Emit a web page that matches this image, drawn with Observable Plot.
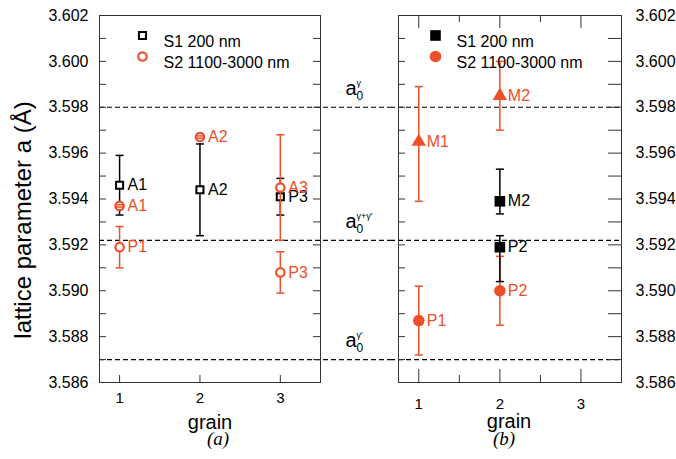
<!DOCTYPE html>
<html><head><meta charset="utf-8">
<script src="https://cdn.jsdelivr.net/npm/d3@7"></script>
<script src="https://cdn.jsdelivr.net/npm/@observablehq/plot@0.6"></script>
<style>
body{margin:0;background:#fff;}
#chart{position:relative;width:676px;height:459px;overflow:hidden;}
#pa,#pb{position:absolute;top:0;}
#pa{left:0px} #pb{left:390px}
</style></head><body><div id="chart"><div id="pa"></div><div id="pb"></div></div>
<script>
// ---------- data ----------
const seriesKeys = ["S1", "S2"];
const seriesNames = ["S1 200 nm", "S2 1100-3000 nm"];
const yTicks = [3.586, 3.588, 3.590, 3.592, 3.594, 3.596, 3.598, 3.600, 3.602];
const yMinorTicks = [3.587, 3.589, 3.591, 3.593, 3.595, 3.597, 3.599, 3.601];
const xTicks = [1, 2, 3];
const xMinorTicks = [1.5, 2.5];
const refValues = [3.598, 3.5922, 3.587];
const refSup = ["γ", "γ+γ′", "γ′"];
const yTitle = "lattice parameter a (Å)";
const xTitle = "grain";
const panelTags = ["(a)", "(b)"];

// panel (a)
const aSeries = ["S1", "S1", "S1", "S2", "S2", "S2", "S2", "S2"];
const aGrain  = [1, 2, 3, 1, 1, 2, 3, 3];
const aLabel  = ["A1", "A2", "P3", "A1", "P1", "A2", "A3", "P3"];
const aValue  = [3.5946, 3.5944, 3.5941, 3.5937, 3.5919, 3.5967, 3.5945, 3.5908];
const aLow    = [3.5933, 3.5924, 3.5933, 3.59365, 3.5910, 3.59665, 3.5922, 3.5899];
const aHigh   = [3.5959, 3.5964, 3.5949, 3.59375, 3.5928, 3.59675, 3.5968, 3.5917];

// panel (b)
const bSeries = ["S2", "S2", "S2", "S2", "S1", "S1"];
const bGrain  = [1, 1, 2, 2, 2, 2];
const bLabel  = ["M1", "P1", "M2", "P2", "M2", "P2"];
const bValue  = [3.5965, 3.5887, 3.5985, 3.5900, 3.5939, 3.5919];
const bLow    = [3.5939, 3.5872, 3.5970, 3.5885, 3.59335, 3.5904];
const bHigh   = [3.5989, 3.5902, 3.6000, 3.5915, 3.5953, 3.5924];

// ---------- helpers ----------
const rowsOf = (s, g, l, v, lo, hi) => s.map((d, i) => ({series: d, grain: g[i], label: l[i], value: v[i], low: lo[i], high: hi[i]}));
const rowsA = rowsOf(aSeries, aGrain, aLabel, aValue, aLow, aHigh);
const rowsB = rowsOf(bSeries, bGrain, bLabel, bValue, bLow, bHigh);
const refRows = refValues.map((v, i) => ({value: v, sup: refSup[i]}));

const FONT = "'Liberation Sans', Arial, Helvetica, sans-serif";
const NARROW = "'Liberation Sans Narrow', 'Arial Narrow', 'Liberation Sans', Arial, sans-serif";
const SERIF = "'Liberation Serif', 'Times New Roman', serif";
const COLORS = {S1: "#000000", S2: "#f04e28"};
const FRAME = "#333333";
const capSymbol = {draw(ctx, size) { const r = Math.sqrt(size / Math.PI); ctx.moveTo(-r, 0); ctx.lineTo(r, 0); }};

const H = 459, MT = 15, MB = 77;
const FH = H - MT - MB;

function errorMarks(rows, order, markerOpts) {
  const marks = [];
  for (const s of order) {
    const rs = rows.filter(d => d.series === s);
    const c = COLORS[s];
    marks.push(Plot.ruleX(rs, {x: "grain", y1: "low", y2: "high", stroke: c, strokeWidth: 1.5}));
    for (const [test, opts] of markerOpts(s)) {
      marks.push(Plot.dot(rs.filter(test), {x: "grain", y: "value", ...opts}));
    }
    marks.push(Plot.dot(rs, {x: "grain", y: "low", symbol: capSymbol, r: 4, stroke: c, strokeWidth: 1.5}));
    marks.push(Plot.dot(rs, {x: "grain", y: "high", symbol: capSymbol, r: 4, stroke: c, strokeWidth: 1.5}));
    marks.push(Plot.text(rs, {x: "grain", y: "value", text: "label", textAnchor: "start", dx: 8, fill: c, fontSize: 16}));
  }
  return marks;
}

function legendMarks(dx, markerOpts) {
  const marks = [];
  seriesKeys.forEach((s, i) => {
    const [, opts] = markerOpts(s)[0];
    marks.push(Plot.dot([seriesNames[i]], {frameAnchor: "top-left", dx, dy: 20 + 21 * i, ...opts}));
    marks.push(Plot.text([seriesNames[i]], {frameAnchor: "top-left", dx: dx + 21, dy: 20 + 21 * i, textAnchor: "start", fontSize: 16, fill: "#000"}));
  });
  return marks;
}

// ---------- panel (a) ----------
const WA = 390, MLA = 99, MRA = 70, FWA = WA - MLA - MRA;
const markersA = s => s === "S1"
  ? [[() => true, {symbol: "square", r: 4, stroke: COLORS.S1, strokeWidth: 2, fill: "white"}]]
  : [[() => true, {symbol: "circle", r: 4.2, stroke: COLORS.S2, strokeWidth: 2.2, fill: "white"}]];

const plotA = Plot.plot({
  width: WA, height: H, marginTop: MT, marginBottom: MB, marginLeft: MLA, marginRight: MRA,
  x: {domain: [0.75, 3.5]},
  y: {domain: [3.586, 3.602]},
  style: {fontFamily: FONT, fontSize: "16px", background: "transparent", color: "#000", overflow: "visible"},
  marks: [
    Plot.ruleY(refValues, {y: d => d, insetRight: -MRA, stroke: "#000", strokeWidth: 1.2, strokeDasharray: "5,3"}),
    Plot.tickY(yTicks.concat(yMinorTicks), {y: d => d, insetRight: FWA - 7, stroke: FRAME}),
    Plot.tickY(yTicks.concat(yMinorTicks), {y: d => d, insetLeft: FWA - 7, stroke: FRAME}),
    Plot.tickX(xTicks, {x: d => d, insetTop: FH - 7, stroke: FRAME}),
    Plot.frame({stroke: FRAME, strokeWidth: 1}),
    Plot.axisY({anchor: "left", ticks: yTicks, tickSize: 0, tickPadding: 11, tickFormat: d3.format(".3f"), fontSize: 16, label: null}),
    Plot.axisX({anchor: "bottom", ticks: xTicks, tickSize: 0, tickPadding: 10, tickFormat: d3.format("d"), fontSize: 15, label: null}),
    ...errorMarks(rowsA, ["S1", "S2"], markersA),
    ...legendMarks(43, markersA),
    Plot.text(refRows, {y: "value", frameAnchor: "right", text: () => "a", textAnchor: "start", dx: 25, dy: -19, fontSize: 20}),
    Plot.text(refRows, {y: "value", frameAnchor: "right", text: () => "0", textAnchor: "start", dx: 36, dy: -11, fontSize: 12}),
    Plot.text(refRows, {y: "value", frameAnchor: "right", text: "sup", textAnchor: "start", dx: 36, dy: -24, fontSize: 9}),
    Plot.text([yTitle], {frameAnchor: "left", textAnchor: "middle", rotate: -90, dx: -76, dy: 21, fontSize: 24, fontFamily: NARROW}),
    Plot.text([xTitle], {frameAnchor: "bottom", dy: 46, fontSize: 20, fontFamily: NARROW}),
    Plot.text([panelTags[0]], {frameAnchor: "bottom", dx: 8, dy: 62, fontSize: 19, fontFamily: SERIF, fontStyle: "italic"})
  ]
});
document.getElementById("pa").appendChild(plotA);

// ---------- panel (b) ----------
const WB = 286, MLB = 8, MRB = 55, FWB = WB - MLB - MRB;
const markersB = s => s === "S1"
  ? [[() => true, {symbol: "square", r: 6, fill: COLORS.S1}]]
  : [[d => typeof d === "string" || d.label.startsWith("P"), {symbol: "circle", r: 5.8, fill: COLORS.S2}],
     [d => typeof d !== "string" && d.label.startsWith("M"), {symbol: "triangle", r: 5.3, fill: COLORS.S2}]];

const plotB = Plot.plot({
  width: WB, height: H, marginTop: MT, marginBottom: MB, marginLeft: MLB, marginRight: MRB,
  x: {domain: [0.75, 3.5]},
  y: {domain: [3.586, 3.602]},
  style: {fontFamily: FONT, fontSize: "16px", background: "transparent", color: "#000", overflow: "visible"},
  marks: [
    Plot.ruleY(refValues, {y: d => d, insetLeft: -MLB, stroke: "#000", strokeWidth: 1.2, strokeDasharray: "5,3"}),
    Plot.tickY(yTicks.concat(yMinorTicks), {y: d => d, insetRight: FWB - 7, stroke: FRAME}),
    Plot.tickY(yTicks.concat(yMinorTicks), {y: d => d, insetLeft: FWB - 13, stroke: FRAME}),
    Plot.tickX(xTicks, {x: d => d, insetTop: FH - 13, stroke: FRAME}),
    Plot.tickX(xMinorTicks, {x: d => d, insetTop: FH - 7, stroke: FRAME}),
    Plot.tickX(xTicks, {x: d => d, insetBottom: FH - 13, stroke: FRAME}),
    Plot.tickX(xMinorTicks, {x: d => d, insetBottom: FH - 7, stroke: FRAME}),
    Plot.frame({stroke: FRAME, strokeWidth: 1}),
    Plot.axisY({anchor: "right", ticks: yTicks, tickSize: 0, tickPadding: 14, tickFormat: d3.format(".3f"), fontSize: 16, label: null}),
    Plot.axisX({anchor: "bottom", ticks: xTicks, tickSize: 0, tickPadding: 16, tickFormat: d3.format("d"), fontSize: 15, label: null}),
    ...errorMarks(rowsB, ["S2", "S1"], markersB),
    ...legendMarks(37, markersB),
    Plot.text([xTitle], {frameAnchor: "bottom", dx: -1, dy: 45, fontSize: 20, fontFamily: NARROW}),
    Plot.text([panelTags[1]], {frameAnchor: "bottom", dx: -6, dy: 62, fontSize: 19, fontFamily: SERIF, fontStyle: "italic"})
  ]
});
document.getElementById("pb").appendChild(plotB);
</script></body></html>
